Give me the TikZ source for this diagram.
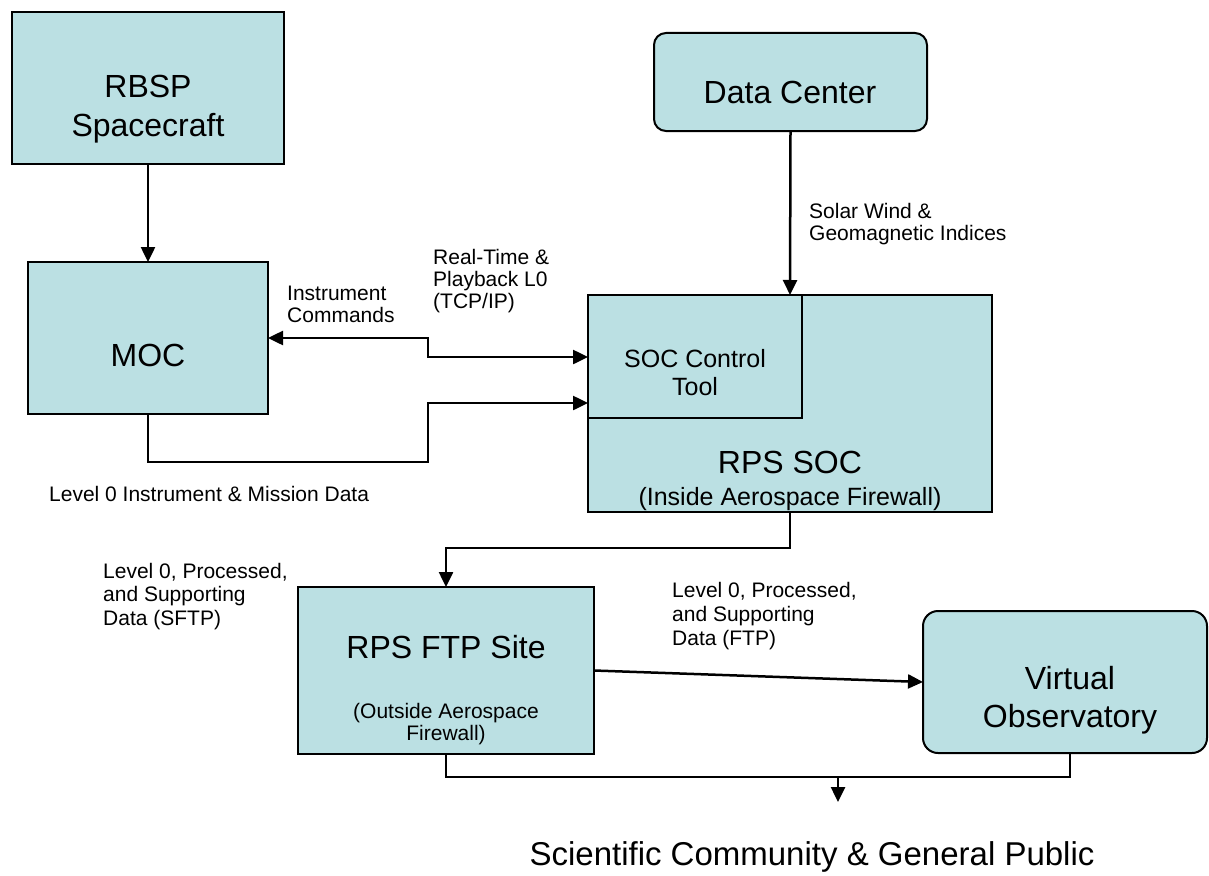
\documentclass[tikz,border=0pt]{standalone}
\usepackage{fontspec}
\setmainfont{Liberation Sans}
\usetikzlibrary{arrows.meta}
\definecolor{boxfill}{RGB}{187,224,227}
\begin{document}
\begin{tikzpicture}[x=1pt,y=-1pt,
  box/.style={draw=black, line width=2pt, fill=boxfill, inner sep=0pt, outer sep=0pt},
  rbox/.style={box, rounded corners=12pt},
  >={Triangle[length=15pt,width=14pt]},
  conn/.style={line width=2.5pt, ->},
  biconn/.style={line width=2.5pt, <->},
  plain/.style={line width=2.5pt},
  big/.style={anchor=base, inner sep=0pt, font=\fontsize{32}{38}\selectfont},
  mid/.style={anchor=base, inner sep=0pt, font=\fontsize{25}{30}\selectfont},
  sml/.style={anchor=base, inner sep=0pt, font=\fontsize{21}{25}\selectfont},
  lbl/.style={anchor=base west, inner sep=0pt, font=\fontsize{21}{25}\selectfont},
]
\useasboundingbox (0,0) rectangle (1209,875);

% boxes
\node[box, minimum width=272, minimum height=152] (rbsp) at (148,88) {};
\node[box, minimum width=240, minimum height=152] (moc) at (148,338) {};
\node[rbox, minimum width=273, minimum height=98] (dc) at (790.5,82) {};
\node[box, minimum width=404, minimum height=217] (soc) at (790,403.5) {};
\node[box, minimum width=214, minimum height=123] (ctl) at (695,356.5) {};
\node[box, minimum width=296, minimum height=167] (ftp) at (446,670.5) {};
\node[rbox, rounded corners=15pt, minimum width=284, minimum height=142] (vo) at (1065,682) {};

% texts in boxes
\node[big] (tRBSP) at (148,97) {RBSP};
\node[big] (tSpace) at (148,136) {Spacecraft};
\node[big] (tMOC) at (148,366) {MOC};
\node[big] (tDC) at (790,103) {Data Center};
\node[mid] (tCtlA) at (695,367) {SOC Control};
\node[mid] (tCtlB) at (695,395) {Tool};
\node[big] (tSOC) at (790,473) {RPS SOC};
\node[mid] (tSOCb) at (790,505) {(Inside Aerospace Firewall)};
\node[big] (tFTP) at (446,658) {RPS FTP Site};
\node[sml] (tFTPb) at (446,718) {(Outside Aerospace};
\node[sml] (tFTPc) at (446,740) {Firewall)};
\node[big] (tVOa) at (1070,689) {Virtual};
\node[big] (tVOb) at (1070,727) {Observatory};
\node[big, font=\fontsize{33}{39}\selectfont] (tSci) at (812,865) {Scientific Community \& General Public};

% labels
\node[lbl] (lSWa) at (809,218) {Solar Wind \&};
\node[lbl] (lSWb) at (809,240) {Geomagnetic Indices};
\node[lbl] (lRTa) at (433,264) {Real-Time \&};
\node[lbl] (lRTb) at (433,286) {Playback L0};
\node[lbl] (lRTc) at (433,308) {(TCP/IP)};
\node[lbl] (lICa) at (287,300) {Instrument};
\node[lbl] (lICb) at (287,322) {Commands};
\node[lbl] (lL0) at (49,501) {Level 0 Instrument \& Mission Data};
\node[lbl] (lSa) at (103,578) {Level 0, Processed,};
\node[lbl] (lSb) at (103,601) {and Supporting};
\node[lbl] (lSc) at (103,625) {Data (SFTP)};
\node[lbl] (lFa) at (672,597) {Level 0, Processed,};
\node[lbl] (lFb) at (672,621) {and Supporting};
\node[lbl] (lFc) at (672,645) {Data (FTP)};

% helper coordinates
\coordinate (kA) at (428,338);
\coordinate (yA) at (0,357);
\coordinate (kB) at (428,462);
\coordinate (yB) at (0,403);
\coordinate (yC) at (0,548);
\coordinate (mrg) at (838,777);
\coordinate (pub) at (838,802);

% connectors
\draw[conn] (rbsp.south) -- (moc.north);
\draw[conn] (dc.south) -- (soc.north);
\draw[biconn] (moc.east) -- (kA) |- (ctl.west |- yA);
\draw[conn] (moc.south) |- (kB) |- (ctl.west |- yB);
\draw[conn] (soc.south) |- (ftp.north |- yC) -- (ftp.north);
\draw[conn] (ftp.east) -- (vo.west);
\draw[plain] (ftp.south) |- (mrg);
\draw[plain] ([xshift=5pt]vo.south) |- (mrg);
\draw[conn] (mrg) -- (pub);
\end{tikzpicture}
\end{document}
